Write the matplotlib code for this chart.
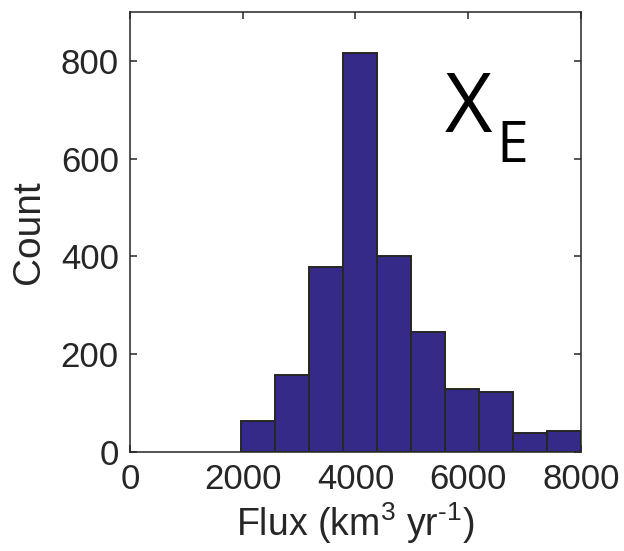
import matplotlib
matplotlib.use("Agg")
import matplotlib.pyplot as plt
import numpy as np

# Data
bin_edges = [1963, 2567, 3170, 3774, 4378, 4981, 5585, 6189, 6792, 7396, 8000]
counts = [63, 157, 378, 816, 401, 245, 128, 122, 38, 43]
x_ticks = [0, 2000, 4000, 6000, 8000]
y_ticks = [0, 200, 400, 600, 800]

plt.rcParams['font.family'] = ['Liberation Sans', 'DejaVu Sans']
plt.rcParams['mathtext.fontset'] = 'custom'
plt.rcParams['mathtext.rm'] = 'Liberation Sans'
plt.rcParams['mathtext.default'] = 'regular'

dark = '#262626'
fig = plt.figure(figsize=(6.24, 5.51), dpi=100)
ax = fig.add_axes([0.2083, 0.1797, 0.931 - 0.2083, 0.978 - 0.1797])

edges = np.array(bin_edges)
ax.bar(edges[:-1], counts, width=np.diff(edges), align='edge',
       color='#352a87', edgecolor=dark, linewidth=1.4, zorder=2)

ax.set_xlim(0, 8000)
ax.set_ylim(0, 900)
ax.set_xticks(x_ticks)
ax.set_yticks(y_ticks)
ax.tick_params(direction='in', length=5, width=1.1, color=dark,
               labelsize=25, labelcolor=dark, top=True, right=True, pad=8)
for s in ax.spines.values():
    s.set_linewidth(1.1)
    s.set_color(dark)

ax.set_xlabel('Flux (km$^{3}$ yr$^{\u20101}$)', fontsize=27, color=dark, labelpad=3)
ax.set_ylabel('Count', fontsize=28, color=dark, labelpad=10)

ax.text(0.698, 0.727, 'X', transform=ax.transAxes, fontsize=59,
        family='Open Sans', color='black', ha='left', va='baseline')
ax.text(0.813, 0.659, 'E', transform=ax.transAxes, fontsize=41,
        family='Open Sans', color='black', ha='left', va='baseline')

fig.savefig('out.png', dpi=100, facecolor='white')
